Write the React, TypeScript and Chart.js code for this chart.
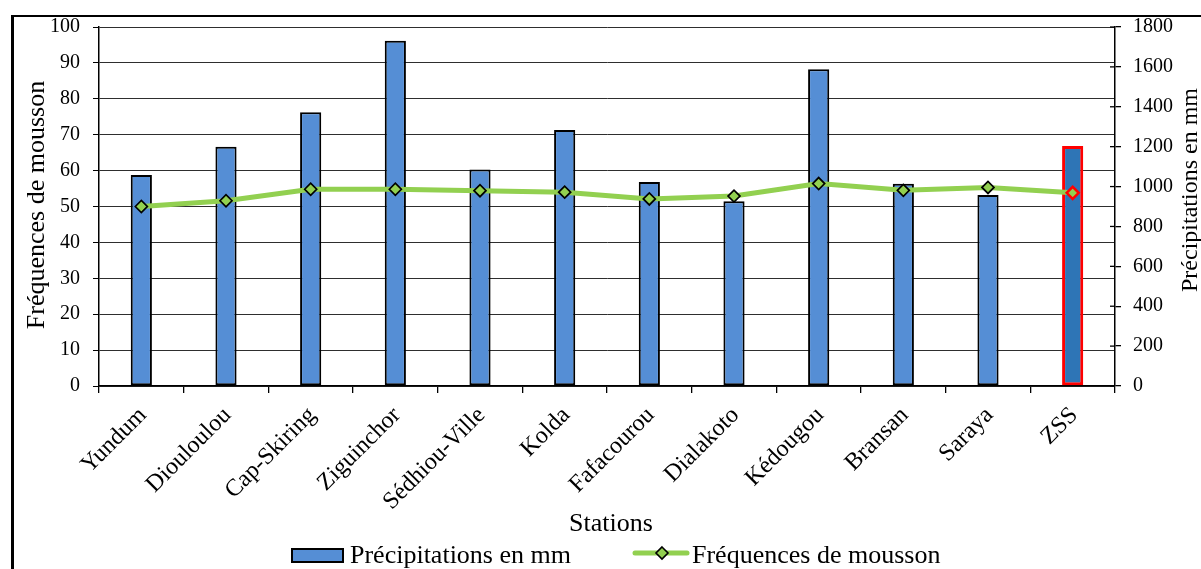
import React, { useEffect, useRef } from "react";
import { Chart, registerables } from "chart.js";

Chart.register(...registerables);

// Stations along the x axis
const stations = [
  "Yundum",
  "Diouloulou",
  "Cap-Skiring",
  "Ziguinchor",
  "Sédhiou-Ville",
  "Kolda",
  "Fafacourou",
  "Dialakoto",
  "Kédougou",
  "Bransan",
  "Saraya",
  "ZSS",
];

// Annual rainfall (mm), right axis
const precipitationsMm = [1058, 1200, 1372, 1731, 1086, 1284, 1023, 926, 1588, 1014, 958, 1203];

// Monsoon frequency, left axis
const frequencesMousson = [50.0, 51.6, 54.8, 54.8, 54.4, 54.0, 52.1, 52.9, 56.4, 54.5, 55.3, 53.8];

// Axis ranges
const freqAxis = { min: 0, max: 100, step: 10 };
const precipAxis = { min: 0, max: 1800, step: 200 };

const seriesLabels = ["Précipitations en mm", "Fréquences de mousson"];
const axisTitles = { x: "Stations", left: "Fréquences de mousson", right: "Précipitations en mm" };

const SERIF = "'Liberation Serif', 'Times New Roman', serif";
const BAR_BLUE = "#558ED5";
const BAR_BLUE_DARK = "#2E75B6";
const GREEN = "#92D050";

const lastIdx = stations.length - 1;

const decorations = {
  id: "decorations",
  beforeDraw(chart: any) {
    const ctx = chart.ctx;
    ctx.save();
    ctx.fillStyle = "#fff";
    ctx.fillRect(0, 0, chart.width, chart.height);
    // outer frame (left and top edges)
    ctx.fillStyle = "#000";
    ctx.fillRect(11, 15, 3, chart.height);
    ctx.fillRect(11, 15, chart.width, 2);
    ctx.restore();
  },
  afterDraw(chart: any) {
    const ctx = chart.ctx;
    const xs = chart.scales.x;
    const yr = chart.scales.y1;
    ctx.save();
    ctx.fillStyle = "#000";
    ctx.strokeStyle = "#000";

    // inward tick marks on the right axis
    ctx.lineWidth = 1.3;
    yr.ticks.forEach((t: any) => {
      const py = yr.getPixelForValue(t.value);
      ctx.beginPath();
      ctx.moveTo(yr.left - 5, py);
      ctx.lineTo(yr.left, py);
      ctx.stroke();
    });

    // rotated category labels
    ctx.font = `24px ${SERIF}`;
    ctx.textAlign = "right";
    ctx.textBaseline = "alphabetic";
    stations.forEach((name, i) => {
      const px = xs.getPixelForValue(i);
      ctx.save();
      ctx.translate(px + 6, 416);
      ctx.rotate(-Math.PI / 4);
      ctx.fillText(name, 0, 0);
      ctx.restore();
    });

    // axis titles
    ctx.textAlign = "center";
    ctx.font = `26px ${SERIF}`;
    ctx.fillText(axisTitles.x, 611, 531);

    ctx.save();
    ctx.translate(44, 205);
    ctx.rotate(-Math.PI / 2);
    ctx.fillText(axisTitles.left, 0, 0);
    ctx.restore();

    ctx.save();
    ctx.font = `24px ${SERIF}`;
    ctx.translate(1197, 190);
    ctx.rotate(-Math.PI / 2);
    ctx.fillText(axisTitles.right, 0, 0);
    ctx.restore();

    // legend
    ctx.textAlign = "left";
    ctx.font = `26px ${SERIF}`;
    ctx.fillStyle = BAR_BLUE;
    ctx.fillRect(292, 549, 51, 13);
    ctx.lineWidth = 2;
    ctx.strokeStyle = "#000";
    ctx.strokeRect(292, 549, 51, 13);
    ctx.fillStyle = "#000";
    ctx.fillText(seriesLabels[0], 350, 563);

    ctx.strokeStyle = GREEN;
    ctx.lineWidth = 5;
    ctx.lineCap = "round";
    ctx.beginPath();
    ctx.moveTo(635, 553);
    ctx.lineTo(687, 553);
    ctx.stroke();
    const cx = 662;
    const cy = 553;
    const r = 6;
    ctx.beginPath();
    ctx.moveTo(cx, cy - r);
    ctx.lineTo(cx + r, cy);
    ctx.lineTo(cx, cy + r);
    ctx.lineTo(cx - r, cy);
    ctx.closePath();
    ctx.fillStyle = GREEN;
    ctx.fill();
    ctx.lineWidth = 1.6;
    ctx.strokeStyle = "#000";
    ctx.stroke();
    ctx.fillStyle = "#000";
    ctx.fillText(seriesLabels[1], 692, 563);

    ctx.restore();
  },
};

export default function App() {
  const canvasRef = useRef<HTMLCanvasElement | null>(null);

  useEffect(() => {
    const canvas = canvasRef.current;
    if (!canvas) return;

    const chart = new Chart(canvas, {
      type: "bar",
      data: {
        labels: stations,
        datasets: [
          {
            type: "line",
            label: seriesLabels[1],
            data: frequencesMousson,
            yAxisID: "y",
            order: 0,
            borderColor: GREEN,
            borderWidth: 5,
            tension: 0,
            pointStyle: "rectRot",
            pointRadius: 6,
            pointBackgroundColor: GREEN,
            pointBorderColor: stations.map((_, i) => (i === lastIdx ? "#FF0000" : "#000")),
            pointBorderWidth: stations.map((_, i) => (i === lastIdx ? 2.5 : 1.7)),
          } as any,
          {
            type: "bar",
            label: seriesLabels[0],
            data: precipitationsMm,
            yAxisID: "y1",
            order: 1,
            backgroundColor: stations.map((_, i) => (i === lastIdx ? BAR_BLUE_DARK : BAR_BLUE)),
            borderColor: stations.map((_, i) => (i === lastIdx ? "#FF0000" : "#000")),
            borderWidth: stations.map((_, i) => (i === lastIdx ? 3 : 2)),
            borderSkipped: false,
            barPercentage: 0.25,
            categoryPercentage: 1,
          } as any,
        ],
      },
      options: {
        responsive: false,
        animation: false,
        devicePixelRatio: 1,
        layout: { padding: { top: 27, left: 0, right: 0, bottom: 0 } },
        plugins: {
          legend: { display: false },
          tooltip: { enabled: false },
        },
        scales: {
          x: {
            type: "category",
            offset: true,
            grid: {
              display: true,
              offset: true,
              drawOnChartArea: false,
              drawTicks: true,
              tickLength: 7,
              color: "#000",
              lineWidth: 1.3,
            },
            border: { display: true, color: "#000", width: 1.5 },
            ticks: { display: false },
            afterFit(scale: any) {
              scale.height = 183;
            },
          },
          y: {
            position: "left",
            min: freqAxis.min,
            max: freqAxis.max,
            ticks: {
              stepSize: freqAxis.step,
              color: "#000",
              padding: 13,
              font: { family: SERIF, size: 20 },
              callback: (v: any) => String(v),
            },
            grid: {
              color: "#2e2e2e",
              lineWidth: 1,
              drawTicks: true,
              tickLength: 6,
              tickColor: "#000",
            },
            border: { display: true, color: "#000", width: 1.5 },
            afterFit(scale: any) {
              scale.width = 99;
            },
          },
          y1: {
            position: "right",
            min: precipAxis.min,
            max: precipAxis.max,
            ticks: {
              stepSize: precipAxis.step,
              color: "#000",
              padding: 12,
              font: { family: SERIF, size: 20 },
              callback: (v: any) => String(v),
            },
            grid: {
              drawOnChartArea: false,
              drawTicks: true,
              tickLength: 6,
              color: "#000",
              lineWidth: 1.3,
            },
            border: { display: true, color: "#000", width: 1.5 },
            afterFit(scale: any) {
              scale.width = 86;
            },
          },
        },
      },
      plugins: [decorations],
    });

    return () => chart.destroy();
  }, []);

  return (
    <canvas
      ref={canvasRef}
      width={1201}
      height={569}
      style={{ position: "fixed", left: 0, top: 0, width: 1201, height: 569, display: "block" }}
    />
  );
}
